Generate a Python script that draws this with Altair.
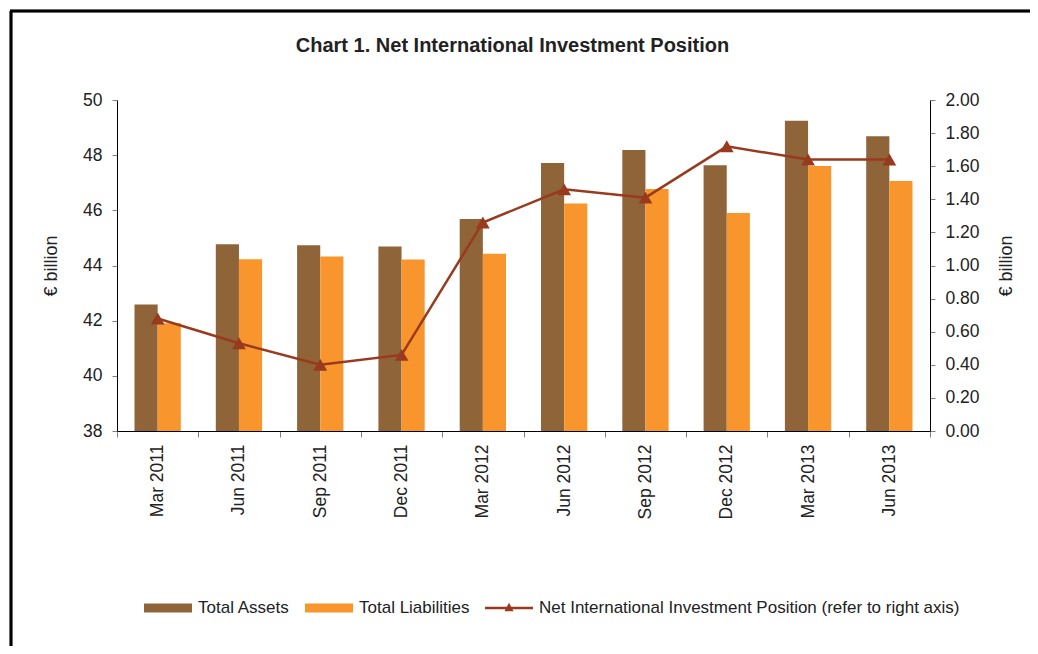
import altair as alt
import pandas as pd

quarters = ["Mar 2011", "Jun 2011", "Sep 2011", "Dec 2011", "Mar 2012",
            "Jun 2012", "Sep 2012", "Dec 2012", "Mar 2013", "Jun 2013"]
total_assets = [42.59, 44.77, 44.73, 44.69, 45.69, 47.72, 48.19, 47.63, 49.25, 48.69]
total_liabilities = [41.91, 44.23, 44.33, 44.22, 44.43, 46.25, 46.77, 45.90, 47.61, 47.06]
niip = [0.68, 0.53, 0.40, 0.46, 1.26, 1.46, 1.41, 1.72, 1.64, 1.64]

series_names = ["Total Assets", "Total Liabilities",
                "Net International Investment Position (refer to right axis)"]
series_colors = ["#8F6438", "#F8962D", "#993A1E"]
left_ticks = [38, 40, 42, 44, 46, 48, 50]
right_ticks = [0.0, 0.2, 0.4, 0.6, 0.8, 1.0, 1.2, 1.4, 1.6, 1.8, 2.0]

FONT = "Liberation Sans"

bars_df = pd.DataFrame(
    [{"quarter": q, "series": series_names[0], "value": v} for q, v in zip(quarters, total_assets)]
    + [{"quarter": q, "series": series_names[1], "value": v} for q, v in zip(quarters, total_liabilities)]
)
line_df = pd.DataFrame({"quarter": quarters, "niip": niip})
legend_df = pd.DataFrame({"series": series_names})

color_scale = alt.Scale(domain=series_names, range=series_colors)
rect_path = "M-1,-0.19H1V0.19H-1Z"
line_path = "M-1,-0.05H1V0.05H-1Z M-0.19,0.14L0,-0.22L0.19,0.14Z"
shape_scale = alt.Scale(domain=series_names, range=[rect_path, rect_path, line_path])

legend_props = dict(
    title=None, orient="none", legendX=27, legendY=484, direction="horizontal",
    columns=3, symbolSize=2304, symbolStrokeWidth=0, symbolOpacity=1,
    labelFontSize=17, labelFont=FONT, labelColor="#222222", labelOffset=6,
    columnPadding=15, labelLimit=600,
)

x_enc = alt.X(
    "quarter:N", sort=quarters, title=None,
    scale=alt.Scale(paddingInner=0, paddingOuter=0),
    axis=alt.Axis(labelAngle=270, tickBand="extent", tickSize=6, tickColor="#808080",
                  domainColor="#000000", labelFontSize=17.5, labelPadding=7,
                  labelColor="#222222", labelFont=FONT),
)

bars = alt.Chart(bars_df).mark_bar(clip=True).encode(
    x=x_enc,
    xOffset=alt.XOffset("series:N", sort=series_names[:2],
                        scale=alt.Scale(paddingInner=0, paddingOuter=0.756)),
    y=alt.Y("value:Q", scale=alt.Scale(domain=[38, 50], zero=False, nice=False),
            axis=alt.Axis(orient="left", values=left_ticks, title="€ billion",
                          titleFontSize=18, titleFontWeight="normal", titleFont=FONT,
                          titleColor="#222222", titlePadding=22,
                          labelFontSize=17.5, labelFont=FONT, labelColor="#222222",
                          labelPadding=10, tickSize=5, tickColor="#808080",
                          domainColor="#000000", grid=False)),
    color=alt.Color("series:N", scale=color_scale, legend=alt.Legend(**legend_props)),
)

line = alt.Chart(line_df).mark_line(
    color=series_colors[2], strokeWidth=2.5,
    point=alt.OverlayMarkDef(shape="triangle-up", size=190, filled=True,
                             color=series_colors[2], opacity=1),
).encode(
    x=x_enc,
    y=alt.Y("niip:Q", scale=alt.Scale(domain=[0, 2], nice=False),
            axis=alt.Axis(orient="right", values=right_ticks, format=".2f", title="€ billion",
                          titleAngle=270, titleFontSize=18, titleFontWeight="normal",
                          titleFont=FONT, titleColor="#222222", titlePadding=36,
                          labelFontSize=17.5, labelFont=FONT, labelColor="#222222",
                          labelPadding=10, tickSize=5, tickColor="#808080",
                          domainColor="#000000", grid=False)),
)

legend_layer = alt.Chart(legend_df).mark_point(filled=True, opacity=0).encode(
    color=alt.Color("series:N", scale=color_scale, legend=alt.Legend(**legend_props)),
    shape=alt.Shape("series:N", scale=shape_scale, legend=alt.Legend(**legend_props)),
)

frame = alt.Chart(legend_df).mark_rule(color="#000000", strokeWidth=2.5).encode(
    x=alt.value(-106), x2=alt.value(-106), y=alt.value(-89), y2=alt.value(560)
) + alt.Chart(legend_df).mark_rule(color="#000000", strokeWidth=2.5).encode(
    x=alt.value(-107), x2=alt.value(930), y=alt.value(-89), y2=alt.value(-89)
)

chart = alt.layer(bars, line, legend_layer, frame).resolve_scale(
    y="independent"
).properties(
    width=813, height=331,
    padding={"left": 109, "top": 92, "right": 100, "bottom": 215},
    autosize=alt.AutoSizeParams(type="none"),
    background="white",
    title=alt.TitleParams(
        "Chart 1. Net International Investment Position", fontSize=20, fontWeight="bold",
        font=FONT, color="#222222", anchor="middle", dx=-11, offset=0, dy=46, frame="group",
    ),
).configure_view(stroke=None)

chart.save("out.html", embed_options={"renderer": "svg", "actions": False})
